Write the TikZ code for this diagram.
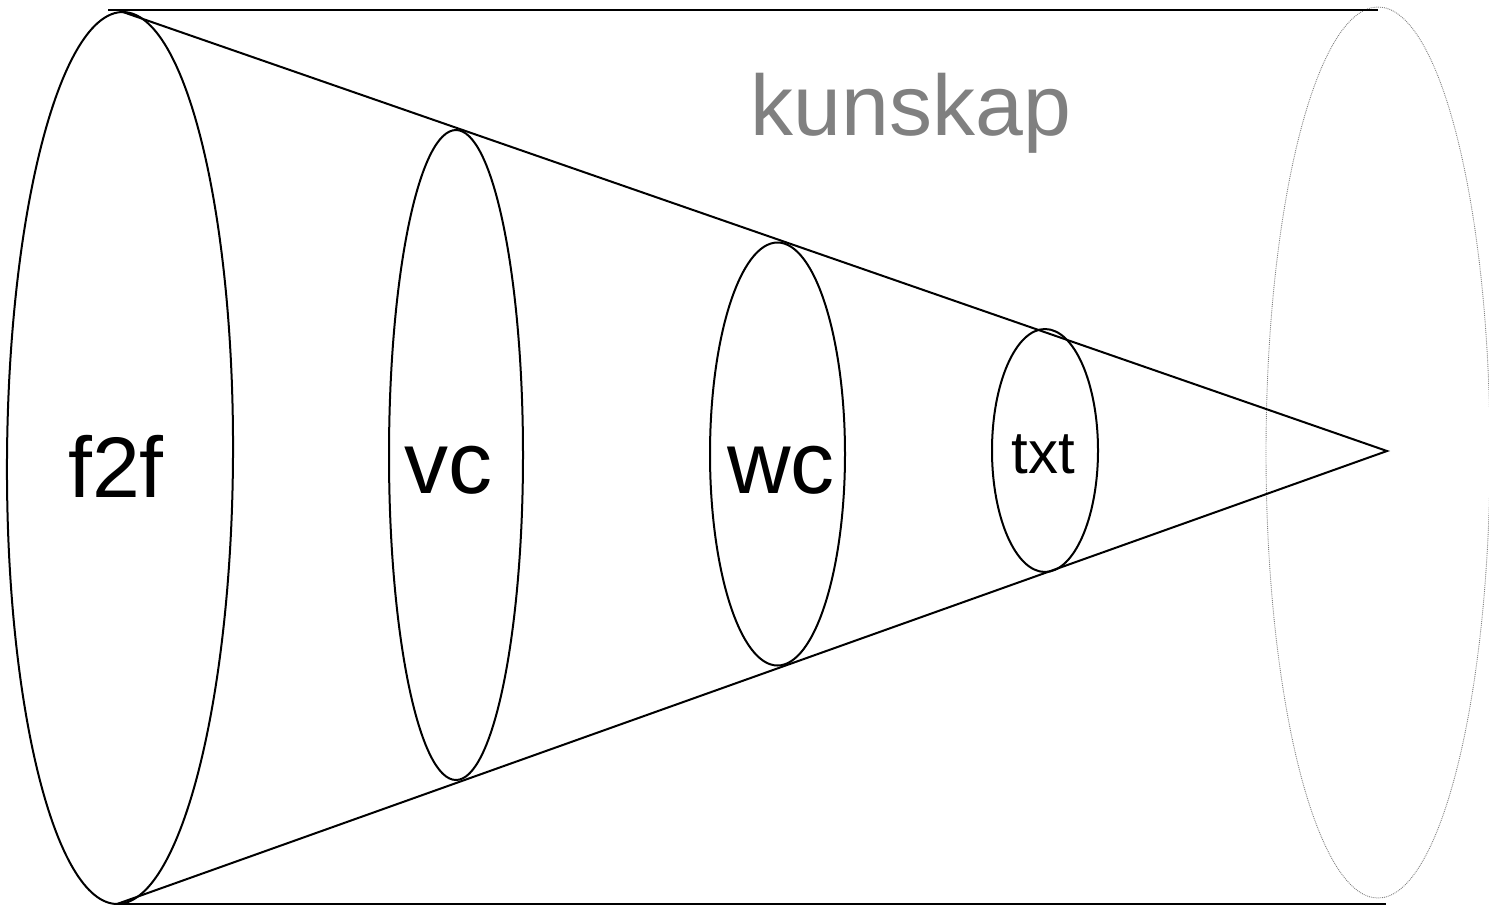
\documentclass[tikz,border=0pt]{standalone}
\usepackage{fontspec}
\setmainfont{Liberation Sans}
\usetikzlibrary{shapes.geometric}

\begin{document}
\begin{tikzpicture}[
    x=1pt, y=-1pt,
    ring/.style={draw, ellipse, line width=2pt, inner sep=0pt, outer sep=0pt},
    endring/.style={draw=gray, ellipse, line width=0.9pt, densely dotted, inner sep=0pt, outer sep=0pt},
    edge/.style={line width=2pt},
    lbl/.style={anchor=base, inner sep=0pt}
]
    \useasboundingbox (0,0) rectangle (1489,906);
    % rings of the cone
    \node[ring, rotate=-0.38, minimum width=226pt, minimum height=892pt] (f2fring) at (120,458) {};
    \node[ring, minimum width=134pt, minimum height=650pt] (vcring) at (456,455) {};
    \node[ring, minimum width=135pt, minimum height=423pt] (wcring) at (777.5,454) {};
    \node[ring, minimum width=106pt, minimum height=243pt] (txtring) at (1045,450.5) {};
    \node[endring, minimum width=224pt, minimum height=891pt] (farring) at (1378,452.5) {};
    \coordinate (apex) at (1387,451);
    \coordinate (topl) at (108,9.5);
    \coordinate (topr) at (1378,9.5);
    \coordinate (botl) at (117,904);
    \coordinate (botr) at (1386,904);
    % cone and cylinder
    \draw[edge] (f2fring.north) -- (apex) -- (f2fring.south);
    \draw[edge] (topl) -- (topr);
    \draw[edge] (botl) -- (botr);
    % labels
    \node[lbl, font=\fontsize{86}{90}\selectfont] (f2f) at (116,497) {f2f};
    \node[lbl, font=\fontsize{88}{92}\selectfont] (vc) at (448,493) {vc};
    \node[lbl, font=\fontsize{88}{92}\selectfont] (wc) at (781,493) {wc};
    \node[lbl, font=\fontsize{60}{64}\selectfont] (txt) at (1043,473) {txt};
    \node[lbl, font=\fontsize{86}{90}\selectfont, text=gray] (kunskap) at (911,135) {kunskap};
\end{tikzpicture}
\end{document}
